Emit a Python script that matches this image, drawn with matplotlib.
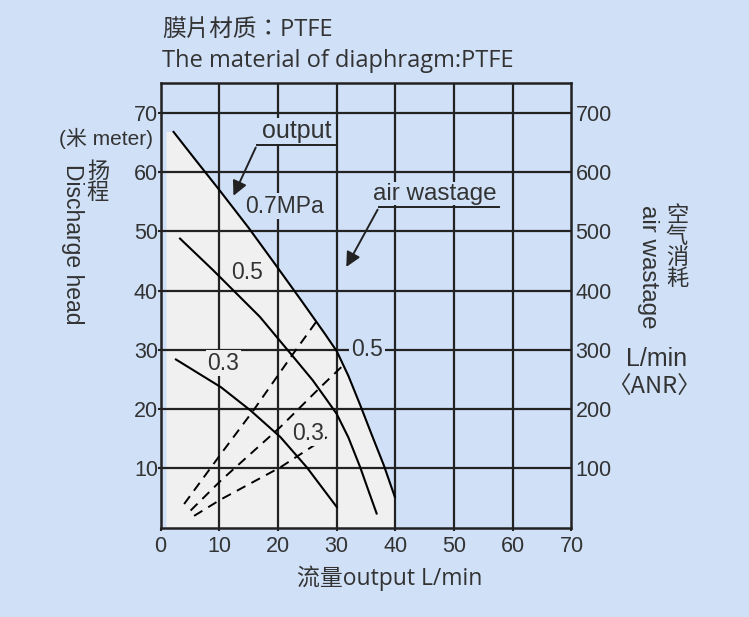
import matplotlib
matplotlib.use('Agg')
import matplotlib.pyplot as plt
import numpy as np

plt.rcParams['font.family'] = ['Liberation Sans', 'Noto Sans CJK SC', 'DejaVu Sans']

BG = '#cfe0f7'
SHADE = '#f0f0f0'
INK = '#222222'

# output curves (flow L/min, head m) per supply pressure
q_07 = [2.2, 6.0, 10.0, 15.0, 20.0, 24.0, 26.0, 28.0, 30.0, 32.0, 34.0, 36.0, 38.0, 39.9]
h_07 = [66.8, 62.0, 57.0, 50.6, 43.8, 38.3, 35.5, 32.7, 29.8, 25.6, 20.7, 15.6, 10.6, 5.2]
q_05 = [3.3, 8.9, 16.9, 22.3, 25.9, 28.0, 30.0, 32.0, 34.0, 35.5, 36.8]
h_05 = [48.8, 43.5, 35.6, 29.2, 24.9, 22.0, 19.2, 15.2, 10.2, 6.0, 2.4]
q_03 = [2.6, 10.3, 15.3, 20.4, 24.9, 30.0]
h_03 = [28.4, 23.7, 19.8, 15.3, 10.2, 3.5]

# air wastage (L/min ANR, right axis) per supply pressure
qa_07 = [4.0, 10.3, 15.8, 22.6, 26.9]
air_07 = [40, 125, 198, 294, 353]
qa_05 = [5.1, 10.3, 20.4, 27.2, 31.4]
air_05 = [29, 80, 170, 237, 277]
qa_03 = [5.7, 10.3, 20.4, 28.3]
air_03 = [20, 48, 102, 153]

x_ticks = [0, 10, 20, 30, 40, 50, 60, 70]
h_ticks = [10, 20, 30, 40, 50, 60, 70]
air_ticks = [100, 200, 300, 400, 500, 600, 700]

fig = plt.figure(figsize=(7.49, 6.17), dpi=100, facecolor=BG)
ax = fig.add_axes([0.2145, 0.1447, 0.5485, 0.7202])
ax.set_facecolor(BG)
ax.set_xlim(0, 70)
ax.set_ylim(0, 75)

# shaded operating area under the 0.7MPa curve
poly_x = [1.0, 1.0] + q_07 + [40, 40]
poly_y = [0, 66.8] + h_07 + [5.2, 0]
ax.fill(poly_x, poly_y, color=SHADE, zorder=1, lw=0)

for v in x_ticks[1:-1]:
    ax.axvline(v, color=INK, lw=1.6, zorder=2)
for v in h_ticks:
    ax.axhline(v, color=INK, lw=1.6, zorder=2)
for s in ax.spines.values():
    s.set_color(INK)
    s.set_linewidth(1.8)

ax.set_xticks(x_ticks)
ax.set_yticks(h_ticks)
ax.tick_params(axis='both', length=2, width=1.5, color=INK, labelsize=15.5, labelcolor='#333333')
ax.tick_params(axis='x', pad=4)
ax.tick_params(axis='y', pad=0)

ax2 = ax.twinx()
ax2.set_ylim(0, 750)
ax2.set_yticks(air_ticks)
ax2.tick_params(axis='y', length=0, pad=3, labelsize=15.5, labelcolor='#333333')
for s in ax2.spines.values():
    s.set_visible(False)

for q, h in [(q_07, h_07), (q_05, h_05), (q_03, h_03)]:
    ax.plot(q, h, color='black', lw=1.5, zorder=4, solid_joinstyle='round')
for q, a in [(qa_07, air_07), (qa_05, air_05), (qa_03, air_03)]:
    ax.plot(q, np.array(a) / 10, color='black', lw=1.4, ls=(0, (5, 3.5)), zorder=4)

lbl = dict(fontsize=16.5, color='#333333', zorder=5, va='center')
ax.text(14.4, 54.3, '0.7MPa', bbox=dict(fc=BG, ec='none', pad=1), **lbl)
ax.text(12.0, 43.0, '0.5', bbox=dict(fc=SHADE, ec='none', pad=1), **lbl)
ax.text(8.0, 27.8, '0.3', bbox=dict(fc=SHADE, ec='none', pad=1), **lbl)
ax.text(32.5, 30.0, '0.5', bbox=dict(fc=BG, ec='none', pad=1.5), **lbl)
ax.text(22.4, 15.9, '0.3', bbox=dict(fc=SHADE, ec='none', pad=1), **lbl)

# leader annotations
ax.text(17.2, 67.0, 'output', fontsize=18, color='#333333', va='center', zorder=5,
        bbox=dict(fc=BG, ec='none', pad=0.5))
ax.plot([29.7, 16.4], [64.6, 64.6], color=INK, lw=1.4, zorder=5)
ax.annotate('', xy=(12.2, 55.6), xytext=(16.4, 64.6), zorder=5,
            arrowprops=dict(arrowstyle='-|>', color=INK, lw=1.4, mutation_scale=22))
ax.text(36.2, 56.4, 'air wastage', fontsize=17.5, color='#333333', va='center', zorder=5,
        bbox=dict(fc=BG, ec='none', pad=0.5))
ax.plot([57.7, 37.2], [54.1, 54.1], color=INK, lw=1.4, zorder=5)
ax.annotate('', xy=(31.4, 43.6), xytext=(37.2, 54.1), zorder=5,
            arrowprops=dict(arrowstyle='-|>', color=INK, lw=1.4, mutation_scale=22))

# titles and axis captions
tc = '#333333'
fig.text(162 / 749, 1 - 31 / 617, '膜片材质：PTFE', fontsize=17, color=tc, va='center',
         family=['Open Sans', 'Noto Sans CJK TC'])
fig.text(162 / 749, 1 - 61 / 617, 'The material of diaphragm:PTFE', fontsize=17, color=tc,
         va='center', family=['Open Sans', 'Noto Sans CJK SC'])
fig.text(390 / 749, 1 - 578 / 617, '流量output L/min', fontsize=16.5, color=tc, ha='center',
         va='center', family=['Open Sans', 'Noto Sans CJK SC'])

fig.text(106 / 749, 1 - 138 / 617, '(米 meter)', fontsize=15, color=tc, ha='center', va='center')
fig.text(98 / 749, 1 - 162 / 617, '扬\n程', fontsize=16, color=tc, ha='center', va='top',
         linespacing=1.0)
fig.text(72 / 749, 1 - 164 / 617, 'Discharge head', fontsize=16.5, color=tc, ha='center',
         va='top', rotation=-90)

fig.text(677 / 749, 1 - 206 / 617, '空\n气\n消\n耗', fontsize=16, color=tc, ha='center',
         va='top', linespacing=1.0)
fig.text(648 / 749, 1 - 205 / 617, 'air wastage', fontsize=17.5, color=tc, ha='center',
         va='top', rotation=-90)
fig.text(657 / 749, 1 - 359 / 617, 'L/min', fontsize=18, color=tc, ha='center', va='center')
fig.text(654 / 749, 1 - 387 / 617, '〈ANR〉', fontsize=17, color=tc, ha='center', va='center',
         family=['Noto Sans CJK SC', 'DejaVu Sans'])

fig.savefig('out.png', dpi=100, facecolor=BG)
